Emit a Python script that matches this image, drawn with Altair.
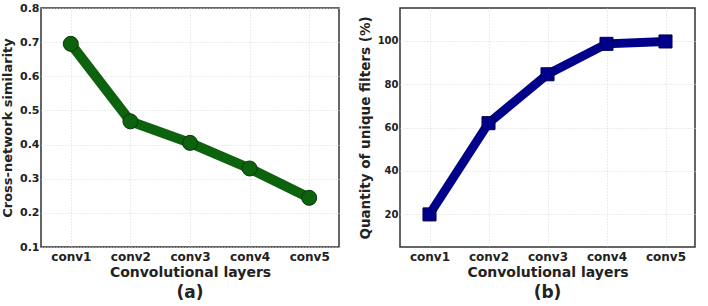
import altair as alt
import pandas as pd

layers = ["conv1", "conv2", "conv3", "conv4", "conv5"]
similarity = [0.695, 0.468, 0.405, 0.330, 0.244]
unique_pct = [20.0, 62.0, 84.5, 98.5, 99.6]

df_a = pd.DataFrame({"layer": layers, "value": similarity})
df_b = pd.DataFrame({"layer": layers, "value": unique_pct})

FONT = "DejaVu Sans"

x_axis = alt.Axis(
    title="Convolutional layers", labelAngle=0, ticks=False, domain=False,
    labelFont=FONT, labelFontSize=12, labelFontWeight="bold", labelColor="#222",
    labelPadding=4, titleFont=FONT, titleFontSize=14, titleFontWeight="bold",
    titleColor="#222", titlePadding=3,
    grid=True, gridColor="#d8d8d8", gridDash=[1, 2], gridWidth=1,
)


def y_axis(title, values, fmt, label_size, title_size, title_pad):
    return alt.Axis(
        title=title, values=values, format=fmt, ticks=False, domain=False,
        labelFont=FONT, labelFontSize=label_size, labelFontWeight="bold",
        labelColor="#222", labelPadding=2, titleFont=FONT, titleFontSize=title_size,
        titleFontWeight="bold", titleColor="#222", titlePadding=title_pad,
        grid=True, gridColor="#d8d8d8", gridDash=[1, 2], gridWidth=1,
    )


xs = alt.Scale(type="point", padding=0.5)

base_a = alt.Chart(df_a).encode(
    x=alt.X("layer:N", sort=layers, scale=xs, axis=x_axis),
    y=alt.Y("value:Q", scale=alt.Scale(domain=[0.1, 0.8], nice=False, zero=False),
            axis=y_axis("Cross-network similarity",
                        [0.1, 0.2, 0.3, 0.4, 0.5, 0.6, 0.7, 0.8], ".1f", 11, 13, 5)),
)
chart_a = alt.layer(
    base_a.mark_line(color="#0d630d", strokeWidth=10),
    base_a.mark_point(shape="circle", filled=True, size=225, color="#0d630d",
                      stroke="#063806", strokeWidth=1, opacity=1),
).properties(
    width=298, height=239,
    title=alt.TitleParams("(a)", orient="bottom", fontSize=17, fontWeight="bold",
                          font=FONT, color="#222", offset=6, anchor="middle",
                          frame="group"),
)

base_b = alt.Chart(df_b).encode(
    x=alt.X("layer:N", sort=layers, scale=xs, axis=x_axis),
    y=alt.Y("value:Q", scale=alt.Scale(domain=[5, 115], nice=False, zero=False),
            axis=y_axis("Quantity of unique filters (%)", [20, 40, 60, 80, 100],
                        "d", 10, 13.5, 5)),
)
chart_b = alt.layer(
    base_b.mark_line(color="#00008b", strokeWidth=9),
    base_b.mark_point(shape="square", filled=True, size=170, color="#00008b",
                      stroke="#000050", strokeWidth=1, opacity=1),
).properties(
    width=295, height=239,
    title=alt.TitleParams("(b)", orient="bottom", fontSize=17, fontWeight="bold",
                          font=FONT, color="#222", offset=6, anchor="middle",
                          frame="group"),
)

chart = alt.hconcat(chart_a, chart_b, spacing=17).properties(
    padding={"left": 0, "top": 1, "right": 5, "bottom": 0},
    background="white",
).configure_view(stroke="#333", strokeWidth=1.5)

chart.save("out.html", embed_options={"renderer": "svg", "actions": False})
